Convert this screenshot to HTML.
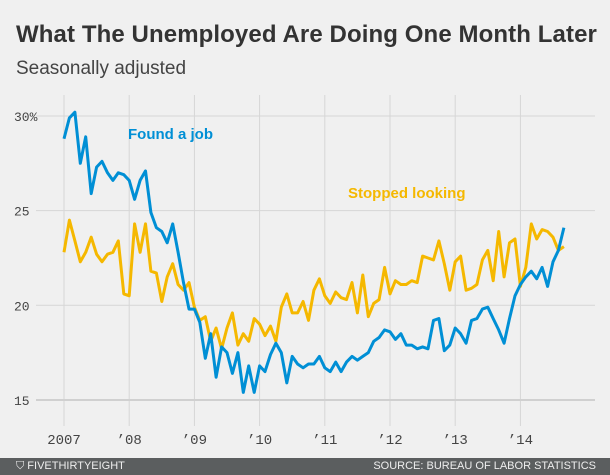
<!DOCTYPE html>
<html><head><meta charset="utf-8"><style>
html,body{margin:0;padding:0;}
body{width:610px;height:475px;background:#f0f0f0;position:relative;overflow:hidden;font-family:"Liberation Sans",sans-serif;}
#title{position:absolute;left:16px;top:21px;font-size:24px;font-weight:bold;color:#333;white-space:nowrap;letter-spacing:0.1px;}
#sub{position:absolute;left:16px;top:58px;font-size:19px;color:#444;}
#footer{position:absolute;left:0;top:458px;width:610px;height:17px;background:#5b5e5f;color:#eee;font-size:11px;}
#footer span{position:absolute;top:2px;}
</style></head><body>
<div id="title">What The Unemployed Are Doing One Month Later</div>
<div id="sub">Seasonally adjusted</div>
<svg id="chart" width="610" height="458" style="position:absolute;left:0;top:0"></svg>
<div id="footer">
<span style="left:16px">⛉ FIVETHIRTYEIGHT</span>
<span style="right:14px">SOURCE: BUREAU OF LABOR STATISTICS</span>
</div>
<script>
const yTicks=[15,20,25,30];
const yTickLabels=["15","20","25","30%"];
const xTickYears=[2007,2008,2009,2010,2011,2012,2013,2014];
const xTickLabels=["2007","’08","’09","’10","’11","’12","’13","’14"];
const foundJob=[28.8,29.9,30.2,27.5,28.9,25.9,27.3,27.6,27.0,26.6,27.0,26.9,26.6,25.6,26.6,27.1,24.9,24.1,23.9,23.3,24.3,22.8,21.2,19.8,19.8,19.1,17.2,18.5,16.2,17.8,17.5,16.4,17.5,15.4,16.8,15.4,16.8,16.5,17.4,18.0,17.5,15.9,17.3,16.9,
16.7,16.9,16.9,17.3,16.7,16.5,17.0,16.5,17.0,17.3,17.1,17.3,17.5,18.1,18.3,18.7,18.6,18.2,18.5,17.9,17.9,17.7,17.8,17.7,19.2,19.3,17.6,17.9,18.8,18.5,18.0,19.2,19.3,19.8,19.9,19.3,18.7,18.0,19.3,20.5,21.1,21.5,21.8,21.4,22.0,21.0,22.3,22.9,24.1];
const stoppedLooking=[22.8,24.5,23.4,22.3,22.8,23.6,22.7,22.3,22.7,22.8,23.4,20.6,20.5,24.3,22.8,24.3,21.8,21.7,20.2,21.5,22.2,21.1,20.8,21.2,19.9,19.2,19.4,18.1,18.8,17.7,18.8,19.6,17.9,18.5,18.1,19.3,19.0,18.4,18.9,18.1,19.9,20.6,19.6,19.6,
20.2,19.2,20.8,21.4,20.5,20.1,20.7,20.4,20.3,21.2,19.6,21.6,19.4,20.1,20.3,22.0,20.6,21.3,21.1,21.1,21.3,21.2,22.6,22.5,22.4,23.4,22.2,20.8,22.3,22.6,20.8,20.9,21.1,22.4,22.9,21.3,23.9,21.5,23.3,23.5,21.0,22.0,24.3,23.5,24.0,23.9,23.6,22.9,23.1];
const NS="http://www.w3.org/2000/svg";
const svg=document.getElementById('chart');
const x=t=>64+(t-2007)*65.2;
const xm=i=>x(2007+i/12);
const y=v=>116+(30-v)*18.93;
function mk(tag,attrs){const e=document.createElementNS(NS,tag);for(const k in attrs)e.setAttribute(k,attrs[k]);svg.appendChild(e);return e;}
xTickYears.forEach((yr,i)=>{
 const l=mk('line',{x1:x(yr),x2:x(yr),y1:95,y2:426,stroke:'#d6d6d6','stroke-width':1});
 
 
 const t=mk('text',{x:x(yr),y:444,'text-anchor':'middle','font-size':14,fill:'#444','font-family':'Liberation Mono, monospace'});
 t.textContent=xTickLabels[i];
 
 
});
yTicks.forEach((v,i)=>{
 const l=mk('line',{x1:36,x2:595,y1:y(v),y2:y(v),stroke:v===15?'#d0d0d0':'#d6d6d6','stroke-width':v===15?2:1});
 
 
 const t=mk('text',{x:14,y:y(v)+5,'font-size':13,fill:'#444','font-family':'Liberation Mono, monospace'});
 t.textContent=yTickLabels[i];
 
 
});
function series(data,color,name){
 const p=mk('polyline',{points:data.map((v,i)=>xm(i).toFixed(1)+','+y(v).toFixed(1)).join(' '),fill:'none',stroke:color,'stroke-width':3,'stroke-linejoin':'round'});
 
 
}
series(stoppedLooking,'#f5b800','stopped-looking-line');
series(foundJob,'#008fd5','found-job-line');
const a=mk('text',{x:128,y:139,'font-size':15,'font-weight':'bold',fill:'#008fd5','font-family':'Liberation Sans, sans-serif'});
a.textContent='Found a job';


const b=mk('text',{x:348,y:198,'font-size':15,'font-weight':'bold',fill:'#f5b800','font-family':'Liberation Sans, sans-serif'});
b.textContent='Stopped looking';


</script>
</body></html>
